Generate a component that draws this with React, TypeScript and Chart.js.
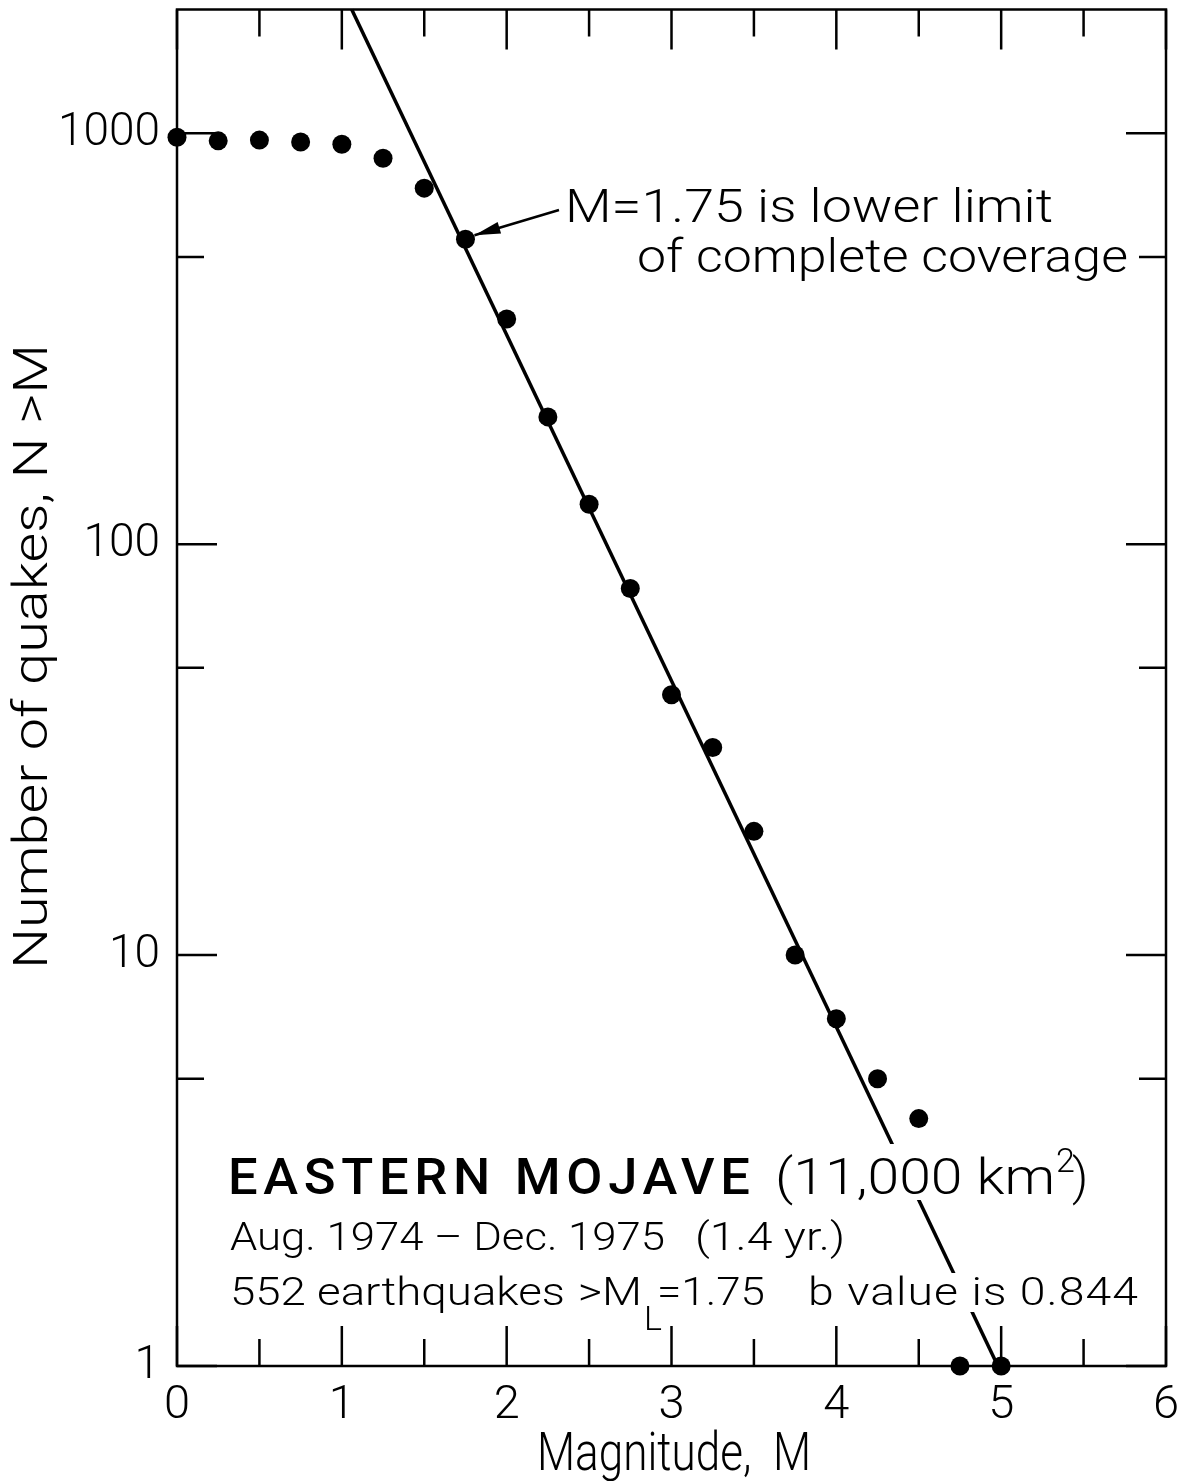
import React, { useEffect, useRef } from 'react';
import { Chart, registerables } from 'chart.js';

Chart.register(...registerables);

// ---- Data ----
const magnitudes = [0, 0.25, 0.5, 0.75, 1, 1.25, 1.5, 1.75, 2, 2.25, 2.5, 2.75, 3, 3.25, 3.5, 3.75, 4, 4.25, 4.5, 4.75, 5];
const counts = [978, 958, 962, 952, 940, 869, 735, 552, 353, 204, 125, 78, 43, 32, 20, 10, 7, 5, 4, 1, 1];
const fitMagnitudes = [1.06, 4.98];
const fitCounts = [2000, 1];
const xMajorTicks = [0, 1, 2, 3, 4, 5, 6];
const xMinorTicks = [0.5, 1.5, 2.5, 3.5, 4.5, 5.5];
const yMajorTicks = [1, 10, 100, 1000];
const yMinorTicks = [5, 50, 500];
const X_MIN = 0;
const X_MAX = 6;
const Y_MIN = 1;
const Y_MAX = 2000;
const completeMagnitude = 1.75;
const completeCount = 552;

const FAMILY = "Roboto, 'DejaVu Sans', sans-serif";

// draw text stretched horizontally / letter-spaced so it spans the given width
function fitText(
  ctx: CanvasRenderingContext2D,
  text: string,
  x: number,
  y: number,
  width: number,
  font: string,
  maxStretch = 1.22
) {
  ctx.save();
  ctx.font = font;
  (ctx as any).letterSpacing = '0px';
  const w = ctx.measureText(text).width;
  let sx = width / w;
  let ls = 0;
  if (sx > maxStretch) {
    const n = Array.from(text).length;
    ls = (width / maxStretch - w) / Math.max(1, n - 1);
    sx = maxStretch;
  }
  ctx.translate(x, y);
  ctx.scale(sx, 1);
  (ctx as any).letterSpacing = ls + 'px';
  ctx.fillText(text, 0, 0);
  ctx.restore();
}

const decorPlugin = {
  id: 'decor',
  beforeDatasetsDraw(chart: any) {
    const { ctx, chartArea } = chart;
    const xs = chart.scales.x;
    const ys = chart.scales.y;
    const { left, right, top, bottom } = chartArea;
    ctx.save();
    ctx.strokeStyle = '#000';
    ctx.lineWidth = 2.5;
    ctx.lineCap = 'butt';
    ctx.strokeRect(left, top, right - left, bottom - top);
    const MAJ = 40;
    const MIN = 27;
    ctx.beginPath();
    xMajorTicks.concat(xMinorTicks).forEach((v) => {
      const len = xMajorTicks.includes(v) ? MAJ : MIN;
      const px = xs.getPixelForValue(v);
      ctx.moveTo(px, bottom);
      ctx.lineTo(px, bottom - len);
      ctx.moveTo(px, top);
      ctx.lineTo(px, top + len);
    });
    yMajorTicks.concat(yMinorTicks).forEach((v) => {
      const len = yMajorTicks.includes(v) ? MAJ : MIN;
      const py = ys.getPixelForValue(v);
      ctx.moveTo(left, py);
      ctx.lineTo(left + len, py);
      ctx.moveTo(right, py);
      ctx.lineTo(right - len, py);
    });
    ctx.stroke();
    ctx.restore();
  },
  afterDatasetsDraw(chart: any) {
    const { ctx } = chart;
    const xs = chart.scales.x;
    const ys = chart.scales.y;
    ctx.save();
    ctx.fillStyle = '#000';
    ctx.textBaseline = 'alphabetic';
    ctx.textAlign = 'left';

    const light = (s: number) => `300 ${s}px ${FAMILY}`;
    // annotation
    fitText(ctx, 'M=1.75 is lower limit', 565, 222, 488, light(47));
    fitText(ctx, 'of complete coverage', 637, 272, 491, light(47));

    // arrow to the M=1.75 point
    const px = xs.getPixelForValue(completeMagnitude);
    const py = ys.getPixelForValue(completeCount);
    const tipX = px + 9;
    const tipY = py - 4;
    const tailX = 559;
    const tailY = 210;
    ctx.strokeStyle = '#000';
    ctx.lineWidth = 2.5;
    ctx.beginPath();
    ctx.moveTo(tailX, tailY);
    ctx.lineTo(tipX, tipY);
    ctx.stroke();
    const ang = Math.atan2(tipY - tailY, tipX - tailX);
    const L = 26;
    const Wd = 6;
    ctx.beginPath();
    ctx.moveTo(tipX, tipY);
    ctx.lineTo(tipX - L * Math.cos(ang) + Wd * Math.sin(ang), tipY - L * Math.sin(ang) - Wd * Math.cos(ang));
    ctx.lineTo(tipX - L * Math.cos(ang) - Wd * Math.sin(ang), tipY - L * Math.sin(ang) + Wd * Math.cos(ang));
    ctx.closePath();
    ctx.fill();

    // white boxes behind the info text (the fit line breaks there)
    ctx.fillStyle = '#fff';
    ctx.fillRect(222, 1144, 866, 56);
    ctx.fillRect(222, 1273, 922, 39);
    ctx.fillStyle = '#000';

    // info block
    fitText(ctx, 'EASTERN MOJAVE', 228, 1194, 522, `500 50px ${FAMILY}`, 1.05);
    fitText(ctx, '(11,000 km', 775, 1194, 280, light(50));
    ctx.font = light(34);
    ctx.fillText('2', 1056, 1172);
    ctx.font = light(50);
    ctx.fillText(')', 1072, 1194);

    fitText(ctx, 'Aug. 1974 – Dec. 1975', 230, 1250, 435, light(38));
    fitText(ctx, '(1.4 yr.)', 695, 1250, 150, light(38));

    fitText(ctx, '552 earthquakes', 230, 1305, 335, light(38));
    fitText(ctx, '>M', 578, 1305, 64, light(38));
    ctx.font = light(34);
    ctx.fillText('L', 644, 1330);
    fitText(ctx, '=1.75', 657, 1305, 108, light(38));
    fitText(ctx, 'b value is 0.844', 808, 1305, 330, light(38));

    // x-axis title
    fitText(ctx, 'Magnitude,  M', 537, 1470, 274, light(53));

    // y-axis title
    ctx.translate(33, 657);
    ctx.rotate(-Math.PI / 2);
    ctx.textBaseline = 'middle';
    fitText(ctx, 'Number of quakes, N >M', -312, 2, 625, light(49));
    ctx.restore();
  },
};

export default function App() {
  const ref = useRef<HTMLCanvasElement | null>(null);
  useEffect(() => {
    if (!ref.current) return;
    Chart.defaults.color = '#000';
    const chart = new Chart(ref.current, {
      type: 'scatter',
      data: {
        datasets: [
          {
            label: 'fit',
            data: fitMagnitudes.map((m, i) => ({ x: m, y: fitCounts[i] })),
            showLine: true,
            borderColor: '#000',
            borderWidth: 3.5,
            pointRadius: 0,
            clip: false as any,
          },
          {
            label: 'N',
            data: magnitudes.map((m, i) => ({ x: m, y: counts[i] })),
            backgroundColor: '#000',
            borderColor: '#000',
            borderWidth: 0,
            pointRadius: 9.5,
            clip: false as any,
          },
        ],
      },
      options: {
        responsive: false,
        animation: false,
        devicePixelRatio: 1,
        layout: { padding: { top: 9, right: 26, left: 0, bottom: 0 } },
        plugins: { legend: { display: false }, tooltip: { enabled: false }, title: { display: false } },
        scales: {
          x: {
            type: 'linear',
            min: X_MIN,
            max: X_MAX,
            grid: { display: false, drawTicks: false },
            border: { display: false },
            ticks: {
              stepSize: 1,
              padding: 12,
              font: { family: FAMILY, size: 47, weight: '300' as any },
              color: '#000',
              callback: (v: any) => String(v),
            },
            title: { display: false },
            afterFit: (s: any) => {
              s.height = 115;
              s.paddingLeft = 0;
              s.paddingRight = 0;
            },
          },
          y: {
            type: 'logarithmic',
            min: Y_MIN,
            max: Y_MAX,
            grid: { display: false, drawTicks: false },
            border: { display: false },
            afterBuildTicks: (s: any) => {
              s.ticks = yMajorTicks.map((v) => ({ value: v }));
            },
            ticks: {
              autoSkip: false,
              padding: 17,
              font: { family: FAMILY, size: 46, weight: '300' as any },
              color: '#000',
              callback: (v: any) => String(v),
            },
            afterFit: (s: any) => {
              s.width = 177;
              s.paddingTop = 0;
              s.paddingBottom = 0;
            },
          },
        },
      },
      plugins: [decorPlugin],
    });
    return () => chart.destroy();
  }, []);
  return (
    <div style={{ position: 'absolute', left: 0, top: 0, width: 1192, height: 1481, background: '#fff' }}>
      <canvas ref={ref} width={1192} height={1481} style={{ display: 'block' }} />
    </div>
  );
}
